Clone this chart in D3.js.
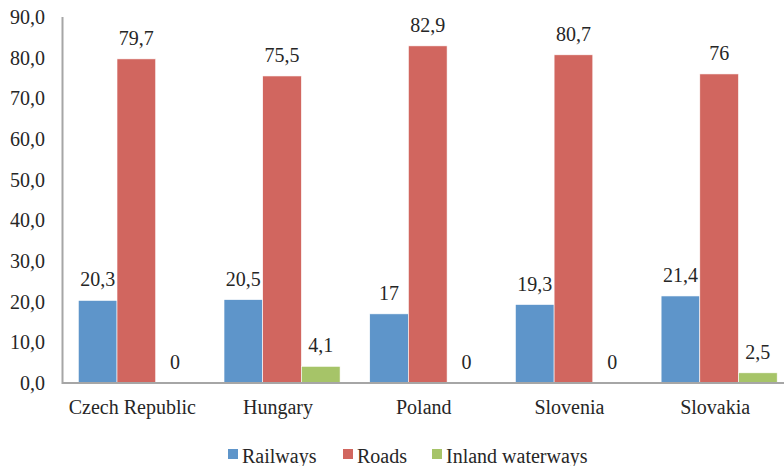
<!DOCTYPE html>
<html><head><meta charset="utf-8">
<script src="https://cdn.jsdelivr.net/npm/d3@7"></script>
</head><body style="margin:0">
<svg id="c" width="784" height="466"></svg>
<script>
const categories = ["Czech Republic","Hungary","Poland","Slovenia","Slovakia"];
const seriesNames = ["Railways","Roads","Inland waterways"];
const railways = [20.3,20.5,17,19.3,21.4];
const roads = [79.7,75.5,82.9,80.7,76];
const inland = [0,4.1,0,0,2.5];
const railwaysLabels = ["20,3","20,5","17","19,3","21,4"];
const roadsLabels = ["79,7","75,5","82,9","80,7","76"];
const inlandLabels = ["0","4,1","0","0","2,5"];
const yTicks = [0,10,20,30,40,50,60,70,80,90];
const colors = ["#5E95CA","#D1665F","#A6C468"];

const seriesVals = [railways, roads, inland];
const seriesLabels = [railwaysLabels, roadsLabels, inlandLabels];
const svg = d3.select("#c");
const y = d3.scaleLinear().domain([0,90]).range([383,17]);
const x0 = d3.scaleBand().domain(categories).range([63.5,792]).paddingInner(0).paddingOuter(0);
const x1 = d3.scaleBand().domain(seriesNames).range([0,x0.bandwidth()]).paddingInner(0).paddingOuter(0.383);

function addText(){ return svg.append("text").attr("font-size",20).style("font-family","serif").attr("fill","#262626"); }

yTicks.forEach(d=>{
  addText().attr("x",45).attr("y",y(d)+7).attr("text-anchor","end")
    .text(d3.format(".1f")(d).replace(".",","));
});

seriesNames.forEach((s,si)=>{
  svg.append("g").selectAll("rect").data(categories).join("rect")
    .attr("x",c=>x0(c)+x1(s)).attr("width",x1.bandwidth())
    .attr("y",(c,i)=>y(seriesVals[si][i])).attr("height",(c,i)=>y(0)-y(seriesVals[si][i]))
    .attr("fill",colors[si]).attr("stroke","#fff").attr("stroke-width",0.6);
  categories.forEach((c,i)=>{
    addText().attr("x",x0(c)+x1(s)+x1.bandwidth()/2).attr("y",y(seriesVals[si][i])-14)
      .attr("text-anchor","middle").text(seriesLabels[si][i]);
  });
});

svg.append("line").attr("x1",62.5).attr("x2",62.5).attr("y1",y(90)).attr("y2",y(0)+1).attr("stroke","#A6A6A6").attr("stroke-width",2);
svg.append("line").attr("x1",62).attr("x2",792).attr("y1",y(0)).attr("y2",y(0)).attr("stroke","#A6A6A6").attr("stroke-width",2);

categories.forEach(c=>{
  addText().attr("x",x0(c)+x0.bandwidth()/2 - 4).attr("y",414).attr("text-anchor","middle").text(c);
});

const legX = [228,343,432];
seriesNames.forEach((s,i)=>{
  svg.append("rect").attr("x",legX[i]).attr("y",449).attr("width",10).attr("height",10).attr("fill",colors[i]);
  addText().attr("x",legX[i]+14).attr("y",463).text(s);
});
</script></body></html>
